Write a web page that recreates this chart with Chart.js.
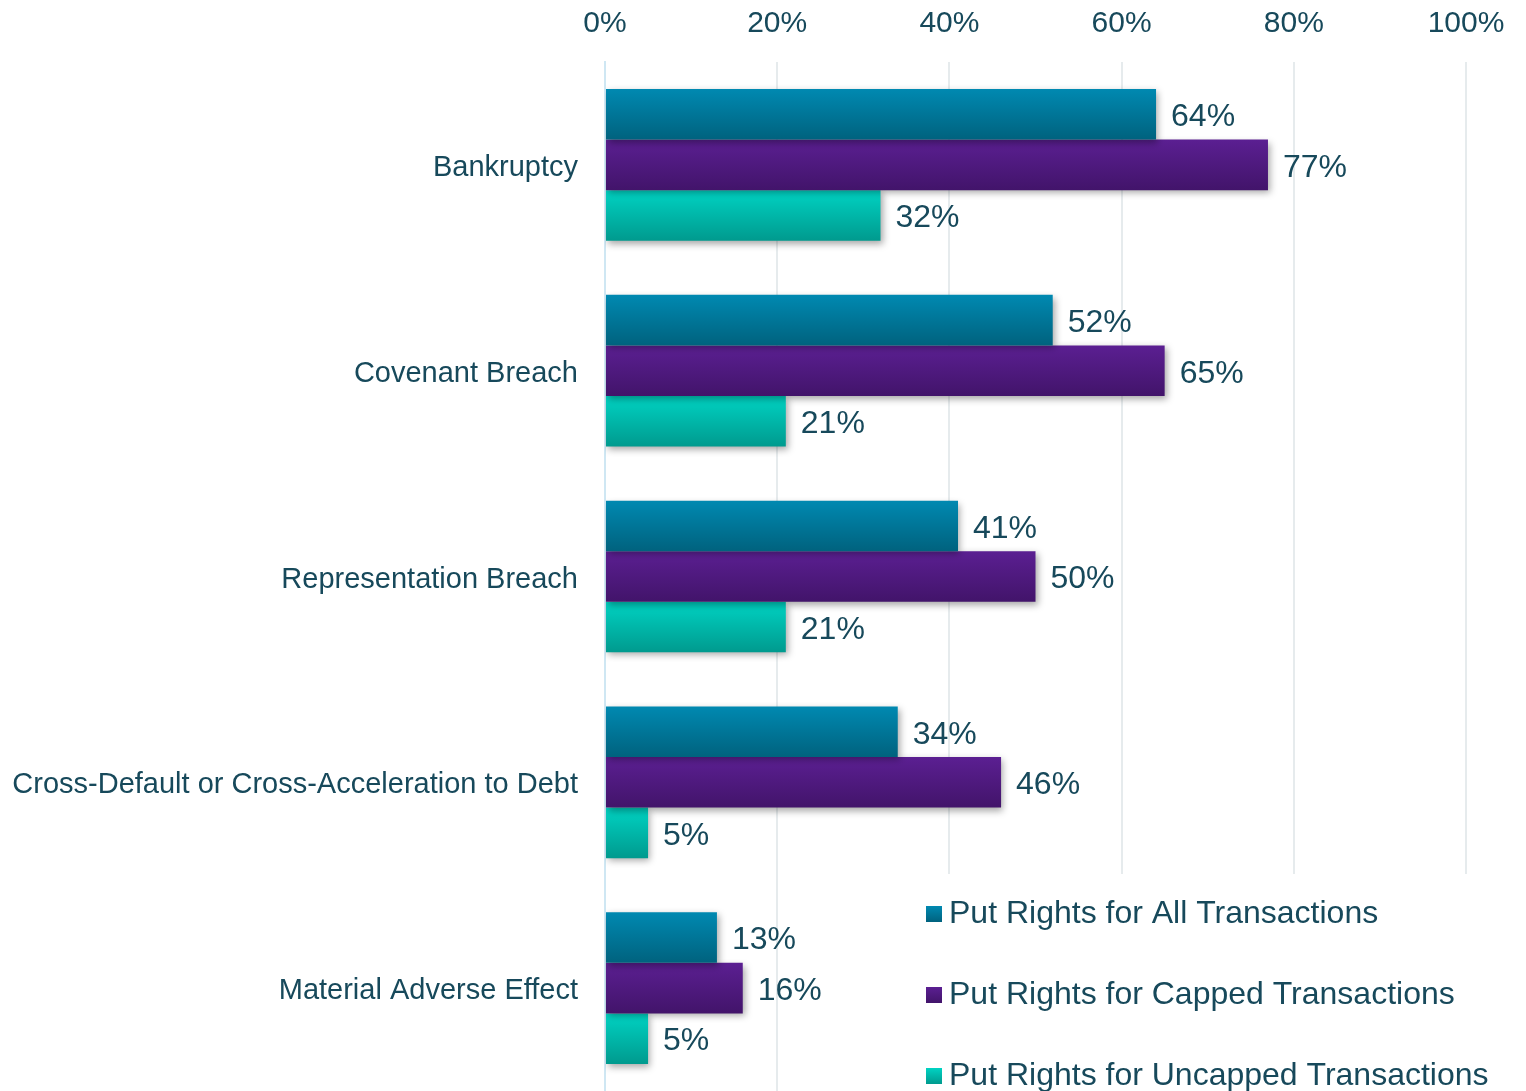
<!DOCTYPE html>
<html>
<head>
<meta charset="utf-8">
<script src="https://cdn.jsdelivr.net/npm/chart.js@4/dist/chart.umd.min.js"></script>
<style>
  html, body { margin: 0; padding: 0; background: #fff; }
  #wrap { width: 1526px; height: 1091px; position: relative; }
</style>
</head>
<body>
<div id="wrap"><canvas id="putRights"></canvas></div>
<script>
// Put rights by trigger event

const categories = [
    'Bankruptcy',
    'Covenant Breach',
    'Representation Breach',
    'Cross-Default or Cross-Acceleration to Debt',
    'Material Adverse Effect'
];
const seriesLabels = [
    'Put Rights for All Transactions',
    'Put Rights for Capped Transactions',
    'Put Rights for Uncapped Transactions'
];
const allTransactions = [64, 52, 41, 34, 13];
const cappedTransactions = [77, 65, 50, 46, 16];
const uncappedTransactions = [32, 21, 21, 5, 5];
const xTicks = [0, 20, 40, 60, 80, 100];

const TEXT = '#17495b';
const FONT = "'Liberation Sans', Arial, sans-serif";
const CAT_PCT = 0.737;

// top / bottom colour of each series gradient
const palette = [
    ['#0089b1', '#00627e'],
    ['#5b1f92', '#42146a'],
    ['#00d3c3', '#009a8e']
];

const barGradient = (top, bottom) => (ctx) => {
    const chart = ctx.chart;
    const ys = chart.scales.y;
    if (ctx.type !== 'data' || !ys || !isFinite(ys.top)) return top;
    const band = (ys.bottom - ys.top) / categories.length;
    const group = band * CAT_PCT;
    const barH = group / 3;
    const y0 = ys.getPixelForValue(ctx.dataIndex) - group / 2 + ctx.datasetIndex * barH;
    const g = chart.ctx.createLinearGradient(0, y0, 0, y0 + barH);
    g.addColorStop(0, top);
    g.addColorStop(1, bottom);
    return g;
};

// drop shadow under the bars + value labels
const barExtras = {
    id: 'barExtras',
    beforeDatasetsDraw(chart) {
        const c = chart.ctx;
        c.save();
        c.shadowColor = 'rgba(0, 0, 0, 0.35)';
        c.shadowBlur = 7;
        c.shadowOffsetX = 2;
        c.shadowOffsetY = 3;
    },
    afterDatasetsDraw(chart) {
        const c = chart.ctx;
        c.restore();
        c.save();
        c.fillStyle = TEXT;
        c.font = '32px ' + FONT;
        c.textAlign = 'left';
        c.textBaseline = 'middle';
        chart.data.datasets.forEach((ds, i) => {
            chart.getDatasetMeta(i).data.forEach((bar, j) => {
                c.fillText(ds.data[j] + '%', bar.x + 15, bar.y + 3);
            });
        });
        c.restore();
    }
};

// legend box sitting in the lower right of the plot
const boxLegend = {
    id: 'boxLegend',
    afterDraw(chart) {
        const c = chart.ctx;
        c.save();
        c.fillStyle = '#ffffff';
        c.fillRect(912, 874, 614, 217);
        c.font = '32px ' + FONT;
        c.textAlign = 'left';
        c.textBaseline = 'middle';
        seriesLabels.forEach((label, i) => {
            const cy = 914 + i * 81;
            const g = c.createLinearGradient(0, cy - 8, 0, cy + 8);
            g.addColorStop(0, palette[i][0]);
            g.addColorStop(1, palette[i][1]);
            c.fillStyle = g;
            c.fillRect(926, cy - 8, 16, 16);
            c.fillStyle = TEXT;
            c.fillText(label, 949, cy);
        });
        c.restore();
    }
};

new Chart(document.getElementById('putRights'), {
    type: 'bar',
    data: {
        labels: categories,
        datasets: [
            { label: seriesLabels[0], data: allTransactions, backgroundColor: barGradient(...palette[0]) },
            { label: seriesLabels[1], data: cappedTransactions, backgroundColor: barGradient(...palette[1]) },
            { label: seriesLabels[2], data: uncappedTransactions, backgroundColor: barGradient(...palette[2]) }
        ]
    },
    options: {
        indexAxis: 'y',
        responsive: true,
        maintainAspectRatio: false,
        animation: false,
        categoryPercentage: CAT_PCT,
        barPercentage: 1.0,
        layout: { padding: { left: 0, right: 60, top: 0, bottom: 0 } },
        plugins: {
            legend: { display: false },
            tooltip: { enabled: false }
        },
        scales: {
            x: {
                position: 'top',
                min: 0,
                max: 100,
                afterBuildTicks: (s) => { s.ticks = xTicks.map(v => ({ value: v })); },
                afterFit: (s) => { s.height = 62; },
                ticks: {
                    color: TEXT,
                    font: { family: FONT, size: 30 },
                    padding: 20,
                    callback: (v) => v + '%'
                },
                grid: {
                    drawTicks: false,
                    color: (ctx) => ctx.index === 0 ? '#cfe7f3' : '#e6ebed',
                    lineWidth: 2
                },
                border: { display: false }
            },
            y: {
                afterFit: (s) => {
                    s.width = 605;
                    s.paddingTop = 0;
                    s.paddingBottom = 0;
                },
                grid: { display: false, drawTicks: false },
                border: { color: '#cfe7f3', width: 2 },
                ticks: {
                    color: TEXT,
                    font: { family: FONT, size: 29 },
                    padding: 27,
                    labelOffset: 3
                }
            }
        }
    },
    plugins: [barExtras, boxLegend]
});
</script>
</body>
</html>
